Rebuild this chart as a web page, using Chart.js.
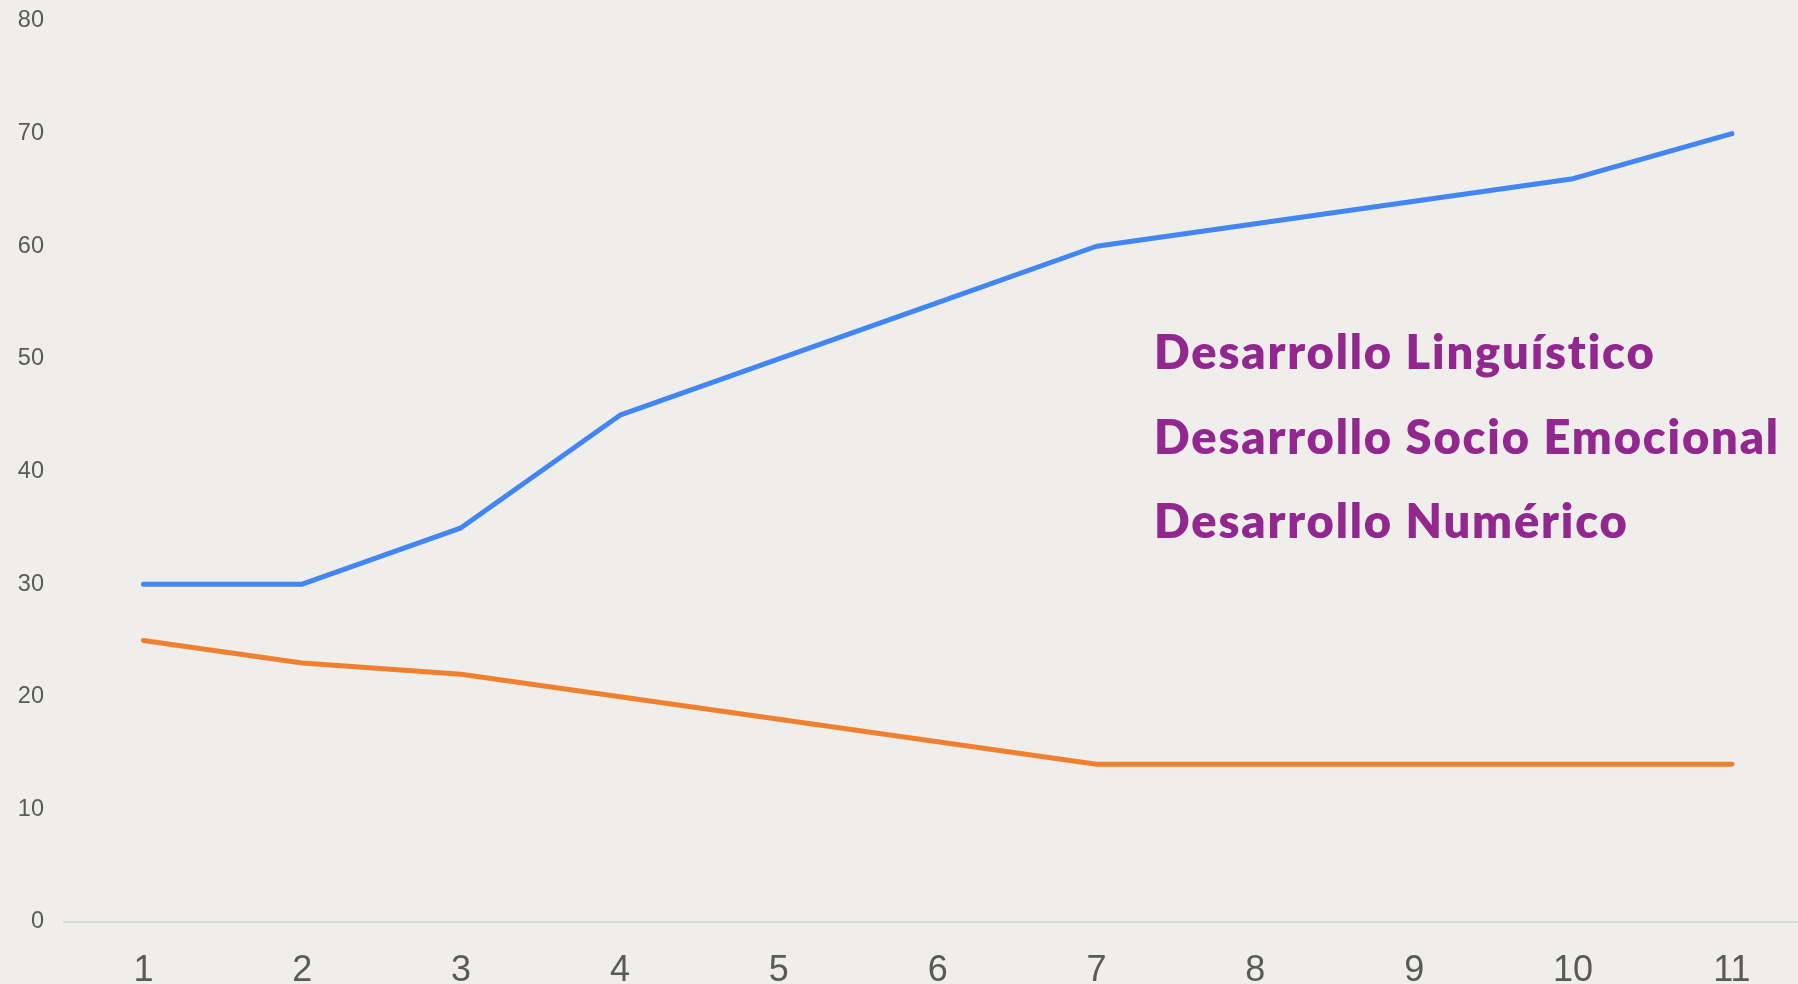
<!DOCTYPE html>
<html>
<head>
<meta charset="utf-8">
<script src="https://cdn.jsdelivr.net/npm/chart.js@4.4.1/dist/chart.umd.min.js"></script>
<style>
  html, body { margin: 0; padding: 0; background: #efeeea; overflow: hidden; }
  #wrap { width: 1798px; height: 984px; position: relative; }
</style>
</head>
<body>
<div id="wrap"><canvas id="c" width="1798" height="984"></canvas></div>
<script>
// Data
const categories = [1, 2, 3, 4, 5, 6, 7, 8, 9, 10, 11];
const blueSeries = [30, 30, 35, 45, 50, 55, 60, 62, 64, 66, 70];
const orangeSeries = [25, 23, 22, 20, 18, 16, 14, 14, 14, 14, 14];
const yTicks = [0, 10, 20, 30, 40, 50, 60, 70, 80];
const annotations = ['Desarrollo Linguístico', 'Desarrollo Socio Emocional', 'Desarrollo Numérico'];

const toPoints = (vals) => vals.map((v, i) => ({ x: categories[i], y: v }));

const textPlugin = {
  id: 'annoText',
  afterDraw(chart) {
    const ctx = chart.ctx;
    ctx.save();
    const size = 47;
    ctx.font = '800 ' + size + 'px Lato';
    ctx.letterSpacing = '0px';
    const w = ctx.measureText(annotations[1]).width;
    const n = annotations[1].length - 1;
    const sp = Math.max(0, (624 - w) / n);
    ctx.letterSpacing = sp.toFixed(2) + 'px';
    ctx.fillStyle = '#92278f';
    ctx.textAlign = 'left';
    ctx.textBaseline = 'alphabetic';
    const baselines = [369, 453.5, 538];
    annotations.forEach((t, i) => ctx.fillText(t, 1154, baselines[i]));
    ctx.restore();
  }
};

new Chart(document.getElementById('c'), {
  type: 'line',
  data: {
    datasets: [
      { data: toPoints(blueSeries), borderColor: '#4285f4', borderWidth: 5, pointRadius: 0, borderCapStyle: 'round', borderJoinStyle: 'round', tension: 0 },
      { data: toPoints(orangeSeries), borderColor: '#f0802f', borderWidth: 5, pointRadius: 0, borderCapStyle: 'round', borderJoinStyle: 'round', tension: 0 }
    ]
  },
  options: {
    responsive: false,
    animation: false,
    layout: { padding: { top: 21, right: 0, bottom: 0, left: 0 } },
    plugins: { legend: { display: false }, tooltip: { enabled: false } },
    scales: {
      x: {
        type: 'linear',
        min: 0.5,
        max: 11.416,
        afterBuildTicks(scale) { scale.ticks = categories.map(v => ({ value: v })); },
        afterFit(scale) { scale.height = 62; scale.paddingLeft = 0; scale.paddingRight = 0; },
        grid: { display: true, color: 'rgba(0,0,0,0)', drawTicks: false },
        border: { display: true, color: '#d9d9d9', width: 2 },
        ticks: { font: { family: 'Liberation Sans, Arial', size: 36 }, color: '#595959', padding: 27, maxRotation: 0, autoSkip: false, includeBounds: false }
      },
      y: {
        min: 0,
        max: 80,
        afterBuildTicks(scale) { scale.ticks = yTicks.map(v => ({ value: v })); },
        afterFit(scale) { scale.width = 64; scale.paddingTop = 0; scale.paddingBottom = 0; },
        grid: { display: false, drawTicks: false },
        border: { display: false },
        ticks: { font: { family: 'Liberation Sans, Arial', size: 23.5 }, color: '#595959', padding: 20 }
      }
    }
  },
  plugins: [textPlugin]
});
</script>
</body>
</html>
